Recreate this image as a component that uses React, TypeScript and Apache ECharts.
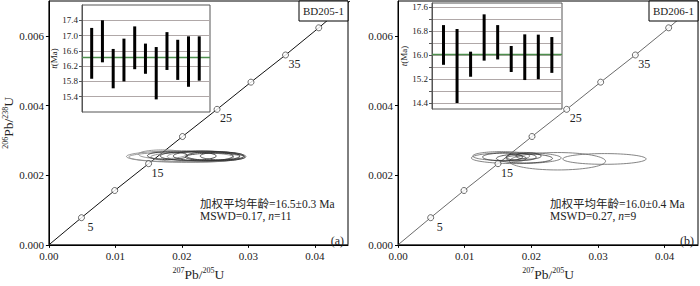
import React, { useEffect, useRef } from "react";
import * as echarts from "echarts";

const FONT = "'Times New Roman', 'Liberation Serif', 'Noto Sans CJK SC', serif";

// Concordia markers, same in both panels
const CONC_X = [0.0049, 0.0099, 0.015, 0.0201, 0.0253, 0.0304, 0.0356, 0.0406];
const CONC_Y = [0.00078, 0.00156, 0.00233, 0.00311, 0.00389, 0.00467, 0.00545, 0.00623];
const CONC_LABELS = ["5", "", "15", "", "25", "", "35", ""];
const CONC_START = [0, 0];
const CONC_END = [0.0453, 0.007];

// Main axis ticks
const X_TICKS = [0, 0.01, 0.02, 0.03, 0.04];
const Y_TICKS = [0, 0.002, 0.004, 0.006];

// Panel (a) ellipses: [cx, cy, rx, ry]
const ELLIPSES_A_LIGHT = [
  [0.02067, 0.002536, 0.009, 0.000168],
  [0.01992, 0.002522, 0.0079, 0.00014],
  [0.01708, 0.0026, 0.0036, 0.000126],
  [0.02352, 0.002536, 0.0057, 0.000154],
  [0.02202, 0.002522, 0.0067, 0.00014],
];
const ELLIPSES_A_DARK = [
  [0.01783, 0.00256, 0.003, 0.000112],
  [0.02097, 0.00255, 0.0042, 0.000126],
  [0.02322, 0.00255, 0.0045, 0.00014],
  [0.02472, 0.00255, 0.004, 0.000126],
  [0.02502, 0.002522, 0.0045, 0.000112],
  [0.02607, 0.00255, 0.0033, 0.000112],
];

// Panel (b) ellipses
const ELLIPSES_B_LIGHT = [
  [0.03097, 0.002466, 0.00625, 0.000154],
  [0.02393, 0.0024, 0.0072, 0.00025],
  [0.01774, 0.002494, 0.00674, 0.000162],
  [0.01549, 0.00255, 0.00427, 0.000126],
];
const ELLIPSES_B_DARK = [
  [0.01569, 0.002522, 0.003, 0.00011],
  [0.01849, 0.00252, 0.00225, 0.0001],
  [0.01958, 0.00255, 0.0019, 0.00009],
  [0.01774, 0.00248, 0.0015, 0.00008],
  [0.01897, 0.00248, 0.0042, 0.00013],
];

// Inset (a) ages: low / high (Ma)
const INSET_A_LOW = [15.87, 16.3, 15.62, 15.8, 16.12, 16.0, 15.33, 16.1, 15.84, 15.66, 15.82];
const INSET_A_HIGH = [17.2, 17.4, 16.65, 16.92, 17.24, 16.79, 16.7, 17.09, 16.89, 16.98, 16.98];
const INSET_A_MEAN = 16.44;
const INSET_A_TICKS = [15.4, 15.8, 16.2, 16.6, 17.0, 17.4];

// Inset (b)
const INSET_B_LOW = [15.68, 14.4, 15.28, 15.82, 15.86, 15.44, 15.17, 15.2, 15.41];
const INSET_B_HIGH = [17.01, 16.88, 16.12, 17.37, 17.01, 16.31, 16.7, 16.69, 16.61];
const INSET_B_MEAN = 16.03;
const INSET_B_GRID = [14.4, 14.8, 15.2, 15.6, 16.0, 16.4, 16.8, 17.2, 17.6];
const INSET_B_LABELS = [14.4, 15.2, 16.0, 16.8, 17.6];

const TITLE_A = "BD205-1";
const TITLE_B = "BD206-1";
const AGE_A = "加权平均年龄=16.5±0.3 Ma";
const AGE_B = "加权平均年龄=16.0±0.4 Ma";
const MSWD_A = ["MSWD=0.17, ", "n", "=11"];
const MSWD_B = ["MSWD=0.27, ", "n", "=9"];

const supRich = {
  sup: { fontSize: 8, verticalAlign: "top", lineHeight: 9, fontFamily: FONT, color: "#222" },
  m: { fontSize: 13.5, lineHeight: 15, fontFamily: FONT, color: "#222" },
};

function ellipseSeries(data: number[][], axis: number, color: string, width: number) {
  return {
    type: "custom",
    xAxisIndex: axis,
    yAxisIndex: axis,
    silent: true,
    encode: { x: 0, y: 1 },
    data,
    renderItem: (_p: any, api: any) => {
      const cx = api.value(0), cy = api.value(1), rx = api.value(2), ry = api.value(3);
      const pts: number[][] = [];
      for (let k = 0; k <= 80; k++) {
        const a = (k / 80) * Math.PI * 2;
        pts.push(api.coord([cx + rx * Math.cos(a), cy + ry * Math.sin(a)]));
      }
      return { type: "polyline", shape: { points: pts }, style: { fill: "none", stroke: color, lineWidth: width } };
    },
    z: 3,
  };
}

function concordiaSeries(axis: number, color: string, width: number) {
  const pts = [CONC_START, ...CONC_X.map((x, i) => [x, CONC_Y[i]]), CONC_END];
  return [
    {
      type: "line",
      xAxisIndex: axis,
      yAxisIndex: axis,
      data: pts,
      symbol: "none",
      silent: true,
      lineStyle: { color, width },
      z: 2,
    },
    {
      type: "scatter",
      xAxisIndex: axis,
      yAxisIndex: axis,
      symbol: "circle",
      symbolSize: 6,
      silent: true,
      itemStyle: { color: "#fff", borderColor: "#333", borderWidth: 0.9 },
      label: { show: false },
      data: CONC_X.map((x, i) => [x, CONC_Y[i]]),
      z: 4,
    },
    {
      type: "custom",
      xAxisIndex: axis,
      yAxisIndex: axis,
      silent: true,
      encode: { x: 0, y: 1 },
      data: CONC_X.map((x, i) => [x, CONC_Y[i], i]),
      renderItem: (_p: any, api: any) => {
        const p = api.coord([api.value(0), api.value(1)]);
        const txt = CONC_LABELS[api.value(2)];
        if (!txt) return null;
        return {
          type: "text",
          x: p[0] + 9,
          y: p[1] + 9,
          style: { text: txt, fill: "#222", fontSize: 12, fontFamily: FONT, align: "center", verticalAlign: "middle" },
        };
      },
      z: 5,
    },
  ];
}

function barSeries(axis: number, low: number[], high: number[], mean: number) {
  return {
    type: "custom",
    xAxisIndex: axis,
    yAxisIndex: axis,
    silent: true,
    encode: { x: 0, y: [1, 2] },
    data: low.map((l, i) => [i + 1, l, high[i]]),
    renderItem: (_p: any, api: any) => {
      const a = api.coord([api.value(0), api.value(1)]);
      const b = api.coord([api.value(0), api.value(2)]);
      return { type: "line", shape: { x1: a[0], y1: a[1], x2: b[0], y2: b[1] }, style: { stroke: "#000", lineWidth: 3 } };
    },
    markLine: {
      symbol: "none",
      silent: true,
      label: { show: false },
      lineStyle: { color: "#4e8f4e", width: 1.3, type: "solid" },
      data: [{ yAxis: mean }],
    },
    z: 5,
  };
}

function mainX(grid: number) {
  return {
    gridIndex: grid,
    type: "value",
    min: 0,
    max: 0.045,
    interval: 0.01,
    axisLine: { show: true, lineStyle: { color: "#000", width: 1 } },
    axisTick: { show: true, inside: false, length: 3, customValues: X_TICKS, lineStyle: { color: "#000" } },
    axisLabel: { customValues: X_TICKS, formatter: (v: number) => v.toFixed(2), fontSize: 11, color: "#222", margin: 6, fontFamily: FONT },
    splitLine: { show: false },
    name: "{sup|207}{m|Pb/}{sup|205}{m|U}",
    nameLocation: "middle",
    nameGap: 18,
    nameTextStyle: { fontSize: 13.5, fontFamily: FONT, color: "#222", rich: supRich },
  };
}

function mainY(grid: number, withName: boolean) {
  return {
    gridIndex: grid,
    type: "value",
    min: 0,
    max: 0.007,
    interval: 0.002,
    axisLine: { show: true, lineStyle: { color: "#000", width: 1 } },
    axisTick: { show: true, inside: false, length: 3, customValues: Y_TICKS, lineStyle: { color: "#000" } },
    axisLabel: { customValues: Y_TICKS, formatter: (v: number) => v.toFixed(3), fontSize: 11, color: "#222", margin: 5, fontFamily: FONT },
    splitLine: { show: false },
    ...(withName
      ? {
          name: "{sup|206}{m|Pb/}{sup|238}{m|U}",
          nameLocation: "middle",
          nameRotate: 90,
          nameGap: 29,
          nameTextStyle: { fontSize: 13.5, fontFamily: FONT, color: "#222", rich: supRich },
        }
      : {}),
  };
}

function insetY(grid: number, min: number, max: number, gridVals: number[], labelVals: number[]) {
  return {
    gridIndex: grid,
    type: "value",
    min,
    max,
    axisLine: { show: true, lineStyle: { color: "#555", width: 1 } },
    axisTick: { show: true, inside: false, length: 3, customValues: gridVals, lineStyle: { color: "#555" } },
    axisLabel: { customValues: labelVals, formatter: (v: number) => v.toFixed(1), fontSize: 9, color: "#222", margin: 4, fontFamily: FONT },
    splitLine: { show: true, lineStyle: { color: "#b0a8a8", width: 1 } },
    name: "{i|t}{m|(Ma)}",
    nameLocation: "middle",
    nameRotate: 90,
    nameGap: 19,
    nameTextStyle: {
      fontSize: 9,
      rich: {
        i: { fontSize: 9, fontStyle: "italic", fontFamily: FONT, color: "#222" },
        m: { fontSize: 9, fontFamily: FONT, color: "#222" },
      },
    },
  };
}

function panelGraphics(left: number, title: string, age: string, mswd: string[], tag: string) {
  return [
    {
      type: "rect",
      shape: { x: left + 251, y: 1, width: 49, height: 20 },
      style: { fill: "#fff", stroke: "#000", lineWidth: 1 },
      z: 10,
    },
    {
      type: "text",
      x: left + 275.5,
      y: 11,
      style: { text: title, fontSize: 11, fontFamily: FONT, fill: "#222", align: "center", verticalAlign: "middle" },
      z: 11,
    },
    {
      type: "text",
      x: left + 152,
      y: 204,
      style: { text: age, fontSize: 11.5, fontFamily: FONT, fill: "#222", align: "left", verticalAlign: "middle" },
      z: 11,
    },
    {
      type: "text",
      x: left + 152,
      y: 216,
      style: {
        text: `{a|${mswd[0]}}{i|${mswd[1]}}{a|${mswd[2]}}`,
        verticalAlign: "middle",
        align: "left",
        rich: {
          a: { fontSize: 11.5, fontFamily: FONT, fill: "#222" },
          i: { fontSize: 11.5, fontFamily: FONT, fill: "#222", fontStyle: "italic" },
        },
      },
      z: 11,
    },
    {
      type: "text",
      x: left + 296,
      y: 241,
      style: { text: tag, fontSize: 12, fontFamily: FONT, fill: "#222", align: "right", verticalAlign: "middle" },
      z: 11,
    },
  ];
}

export default function App() {
  const ref = useRef<HTMLDivElement>(null);
  useEffect(() => {
    if (!ref.current) return;
    const chart = echarts.init(ref.current, undefined, { renderer: "svg" });
    const option: any = {
      animation: false,
      backgroundColor: "#fff",
      textStyle: { fontFamily: FONT },
      grid: [
        { left: 48, top: 1, width: 300, height: 250, show: true, borderColor: "#000", borderWidth: 1, backgroundColor: "#fff" },
        { left: 398, top: 1, width: 300, height: 250, show: true, borderColor: "#000", borderWidth: 1, backgroundColor: "#fff" },
        { left: 82, top: 5, width: 128, height: 107, show: true, borderColor: "#555", borderWidth: 1, backgroundColor: "#fff" },
        { left: 432, top: 3, width: 130, height: 106, show: true, borderColor: "#555", borderWidth: 1, backgroundColor: "#fff" },
      ],
      xAxis: [
        mainX(0),
        mainX(1),
        { gridIndex: 2, type: "value", min: 0.1, max: 12, show: false },
        { gridIndex: 3, type: "value", min: 0.15, max: 9.75, show: false },
      ],
      yAxis: [
        mainY(0, true),
        mainY(1, false),
        insetY(2, 15.0, 17.8, INSET_A_TICKS, INSET_A_TICKS),
        insetY(3, 14.2, 17.75, INSET_B_GRID, INSET_B_LABELS),
      ],
      series: [
        ...concordiaSeries(0, "#111", 1),
        ellipseSeries(ELLIPSES_A_LIGHT, 0, "#8c8c8c", 0.9),
        ellipseSeries(ELLIPSES_A_DARK, 0, "#333", 0.9),
        ...concordiaSeries(1, "#444", 0.8),
        ellipseSeries(ELLIPSES_B_LIGHT, 1, "#666", 0.8),
        ellipseSeries(ELLIPSES_B_DARK, 1, "#333", 0.8),
        barSeries(2, INSET_A_LOW, INSET_A_HIGH, INSET_A_MEAN),
        barSeries(3, INSET_B_LOW, INSET_B_HIGH, INSET_B_MEAN),
      ],
      graphic: [
        ...panelGraphics(48, TITLE_A, AGE_A, MSWD_A, "(a)"),
        ...panelGraphics(398, TITLE_B, AGE_B, MSWD_B, "(b)"),
      ],
    };
    chart.setOption(option);
    return () => chart.dispose();
  }, []);
  return <div ref={ref} style={{ position: "fixed", left: 0, top: 0, width: 700, height: 286 }} />;
}
